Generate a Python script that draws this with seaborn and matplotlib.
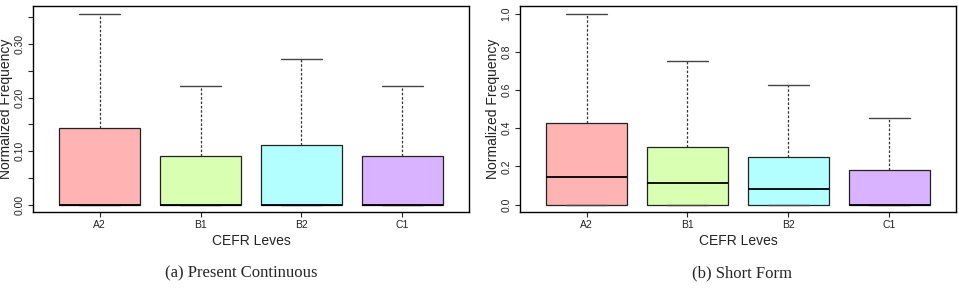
import pandas as pd
import matplotlib
matplotlib.use('Agg')
import matplotlib.pyplot as plt
import seaborn as sns
import numpy as np

# --------------------------------------------------
#  data (five numbers per box)
levels = ['A2', 'B1', 'B2', 'C1']
box_colors = ['#FFB3B3', '#D9FFB3', '#B3FFFF', '#D9B3FF']

# (a) present continuous
pc_low = [0.0, 0.0, 0.0, 0.0]
pc_q1 = [0.0, 0.0, 0.0, 0.0]
pc_med = [0.0, 0.0, 0.0, 0.0]
pc_q3 = [0.143, 0.091, 0.111, 0.091]
pc_high = [0.357, 0.222, 0.273, 0.222]

# (b) short form
sf_low = [0.0, 0.0, 0.0, 0.0]
sf_q1 = [0.0, 0.0, 0.0, 0.0]
sf_med = [0.143, 0.111, 0.083, 0.0]
sf_q3 = [0.427, 0.30, 0.25, 0.182]
sf_high = [1.0, 0.75, 0.625, 0.455]

captions = ['(a) Present Continuous', '(b) Short Form']


def five_num_frame(low, q1, med, q3, high):
    # 5 points per group -> percentiles hit exactly these values
    rows = []
    for i, lev in enumerate(levels):
        for v in [low[i], q1[i], med[i], q3[i], high[i]]:
            rows.append({'level': lev, 'value': v})
    return pd.DataFrame(rows)


sns.set_style('ticks')
plt.rcParams['font.family'] = ['Liberation Sans', 'DejaVu Sans']

fig = plt.figure(figsize=(9.59, 2.88), dpi=100)
ax1 = fig.add_axes([0.0344, 0.263, 0.4546, 0.716])
ax2 = fig.add_axes([0.5422, 0.263, 0.4546, 0.716])


def draw_panel(ax, df, ymax, yticks, ylabels):
    sns.boxplot(data=df, x='level', y='value', hue='level', palette=box_colors,
                order=levels, hue_order=levels, legend=False,
                whis=(0, 100), width=0.8, linecolor='black', linewidth=0.9,
                saturation=1, ax=ax,
                whiskerprops={'linestyle': (0, (2, 1.5)), 'color': '#333333', 'linewidth': 0.9},
                capprops={'color': '#444444', 'linewidth': 1.0},
                medianprops={'color': 'black', 'linewidth': 1.3},
                boxprops={'edgecolor': '#222222'})
    ax.set_xlim(-0.66, 3.66)
    ax.set_ylim(-0.04 * ymax, 1.04 * ymax)
    ax.set_yticks(yticks)
    ax.set_yticklabels(ylabels, rotation=90, va='center', fontsize=7.5, color='#222222')
    ax.tick_params(axis='x', labelsize=7.5, labelcolor='#222222', length=3.5, width=0.8, pad=2)
    ax.tick_params(axis='y', length=3.5, width=0.8, pad=2.5)
    ax.set_xlabel('CEFR Leves', fontsize=10, color='#222222', labelpad=3)
    ax.set_ylabel('Normalized Frequency', fontsize=10, color='#222222', labelpad=1)
    for sp in ax.spines.values():
        sp.set_visible(True)
        sp.set_color('black')
        sp.set_linewidth(1.0)


# ---------- (a)
df_pc = five_num_frame(pc_low, pc_q1, pc_med, pc_q3, pc_high)
yt1 = [0.0, 0.05, 0.10, 0.15, 0.20, 0.25, 0.30, 0.35]
yl1 = ['0.00', '', '0.10', '', '0.20', '', '0.30', '']
draw_panel(ax1, df_pc, max(pc_high), yt1, yl1)

# ---------- (b)
df_sf = five_num_frame(sf_low, sf_q1, sf_med, sf_q3, sf_high)
yt2 = [0.0, 0.2, 0.4, 0.6, 0.8, 1.0]
yl2 = ['0.0', '0.2', '0.4', '0.6', '0.8', '1.0']
draw_panel(ax2, df_sf, max(sf_high), yt2, yl2)

fig.text(0.252, 0.052, captions[0], ha='center', va='center', fontsize=12,
         family=['Liberation Serif', 'DejaVu Serif'])
fig.text(0.7735, 0.052, captions[1], ha='center', va='center', fontsize=12,
         family=['Liberation Serif', 'DejaVu Serif'])

plt.savefig('out.png', dpi=100)
